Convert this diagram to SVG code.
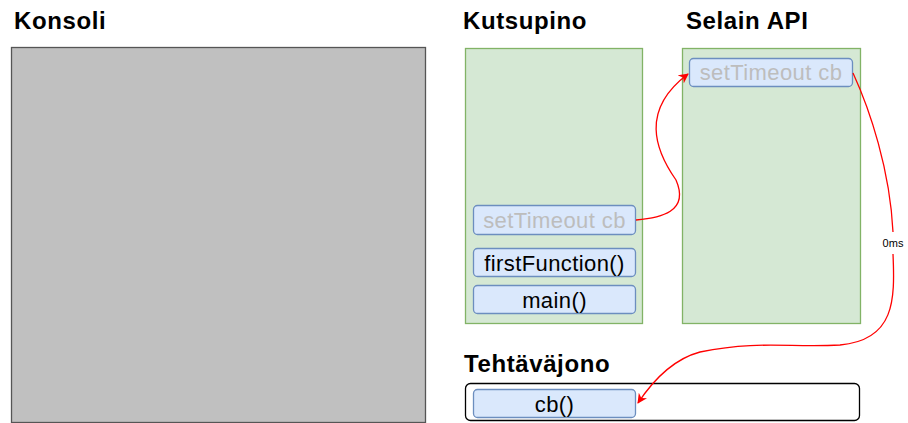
<svg xmlns="http://www.w3.org/2000/svg" width="908" height="423" viewBox="0 0 908 423">
<style>
.title{font-family:"Liberation Sans",Arial,sans-serif;font-weight:bold;font-size:24px;letter-spacing:0.6px;fill:#000}
.panel{fill:#d5e8d4;stroke:#82b366;stroke-width:1.3}
.item{fill:#dae8fc;stroke:#6c8ebf;stroke-width:1.3}
.lbl{font-family:"Liberation Sans",Arial,sans-serif;font-size:22px;letter-spacing:0.4px;fill:#000;text-anchor:middle}
.ghost{fill:#bdbdbd}
.edge{fill:none;stroke:#ff0000;stroke-width:1.3}
</style>
<defs>
<marker id="arr" viewBox="0 0 10 10" refX="9" refY="5" markerWidth="10" markerHeight="10" orient="auto" markerUnits="userSpaceOnUse">
<path d="M0,0 L10,5 L0,10 L3,5 Z" fill="#ff0000"/>
</marker>
</defs>
<rect width="908" height="423" fill="#fff"/>
<g id="konsoli">
<text class="title" x="14" y="29">Konsoli</text>
<rect x="11.5" y="47.5" width="414" height="375" fill="#c0c0c0" stroke="#555" stroke-width="1.3"/>
</g>
<g id="kutsupino">
<text class="title" x="463" y="29">Kutsupino</text>
<rect class="panel" x="465.5" y="48.5" width="177" height="275"/>
</g>
<g id="selain">
<text class="title" x="686" y="29">Selain API</text>
<rect class="panel" x="682.5" y="48.5" width="178" height="275"/>
</g>
<g id="api-setTimeout">
<rect class="item" x="689.5" y="58.5" width="163" height="28" rx="4"/>
<text class="lbl ghost" x="771" y="80">setTimeout cb</text>
</g>
<g id="stack-setTimeout">
<rect class="item" x="473.5" y="205.5" width="162" height="29" rx="4"/>
<text class="lbl ghost" x="554.5" y="228">setTimeout cb</text>
</g>
<g id="firstFunction">
<rect class="item" x="473.5" y="248.5" width="162" height="28" rx="4"/>
<text class="lbl" x="554.5" y="271">firstFunction()</text>
</g>
<g id="main">
<rect class="item" x="473.5" y="285.5" width="162" height="28" rx="4"/>
<text class="lbl" x="554.5" y="308">main()</text>
</g>
<g id="tehtavajono">
<text class="title" x="464" y="372">Tehtäväjono</text>
<rect x="465.5" y="383.5" width="394" height="37" rx="5" fill="#fff" stroke="#000" stroke-width="1.3"/>
</g>
<g id="cb">
<rect class="item" x="473.5" y="389.5" width="162" height="28" rx="4"/>
<text class="lbl" x="554.5" y="412">cb()</text>
</g>
<g id="connectors">
<path class="edge" d="M636,220 C660,218 690,212 676,180 C655,150 640,110 688,74" marker-end="url(#arr)"/>
<path class="edge" d="M853,73 C870,110 890,170 893,232"/>
<path class="edge" d="M893,254 C895,300 895,340 840,345 C790,348 760,340 700,352 C670,360 650,385 638,403" marker-end="url(#arr)"/>
<text x="893" y="247" font-family="Liberation Sans,Arial,sans-serif" font-size="11" text-anchor="middle" fill="#000">0ms</text>
</g>
</svg>
